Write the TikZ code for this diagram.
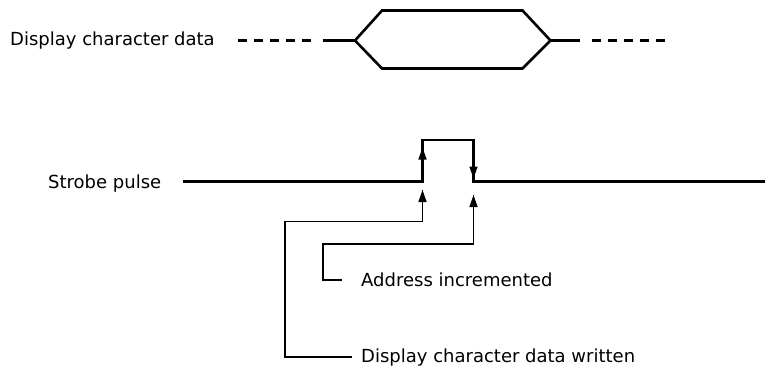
\documentclass[tikz,border=0pt]{standalone}
\usepackage{fontspec}
\setmainfont{DejaVu Sans}
\usetikzlibrary{arrows.meta}
\begin{document}
\begin{tikzpicture}[x=1pt,y=-1pt,
  wave/.style={line width=2.6pt,line join=miter},
  dashline/.style={line width=3pt,dash pattern=on 9pt off 7pt},
  leader/.style={line width=1.2pt},
  tip/.style={-{Triangle[length=12pt,width=8pt]},line width=1.4pt},
  lbl/.style={anchor=base west,inner sep=0pt,font=\fontsize{18}{20}\selectfont}]
\useasboundingbox (0,0) rectangle (765,370);
% labels
\node[lbl] (dcd) at (10,45.5) {Display character data};
\node[lbl] (sp) at (48,188) {Strobe pulse};
\node[lbl] (ai) at (361,286) {Address incremented};
\node[lbl] (dcw) at (361,362.5) {Display character data written};
% data bus hexagon
\coordinate (hl) at (355,40.5);
\coordinate (hr) at (550.5,40.5);
\draw[dashline] (238,40.5) -- (313,40.5);
\draw[wave] (323,40.5) -- (hl);
\draw[wave] (hl) -- (382,10.5) -- (522.5,10.5) -- (hr) -- (522.5,68.5) -- (382,68.5) -- cycle;
\draw[wave] (hr) -- (580,40.5);
\draw[dashline] (592,40.5) -- (669,40.5);
% strobe pulse
\coordinate (rise) at (422.5,181.5);
\coordinate (fall) at (473.5,181.5);
\draw[wave] (183,181.5) -- (rise) -- (422.5,140) -- (473.5,140) -- (fall) -- (765,181.5);
\draw[tip] (422.5,162) -- (422.5,147.5);
\draw[tip] (473.5,164) -- (473.5,178.5);
% leaders
\coordinate (tw) at (422.5,190);
\coordinate (ta) at (473.5,195);
\draw[tip] (422.5,206) -- (tw);
\draw[tip] (473.5,211) -- (ta);
\draw[leader] (tw) -- (422.5,221.5) -- (285,221.5) -- (285,357) -- (352,357);
\draw[leader] (ta) -- (473.5,244) -- (323,244) -- (323,280) -- (342,280);
\end{tikzpicture}
\end{document}
